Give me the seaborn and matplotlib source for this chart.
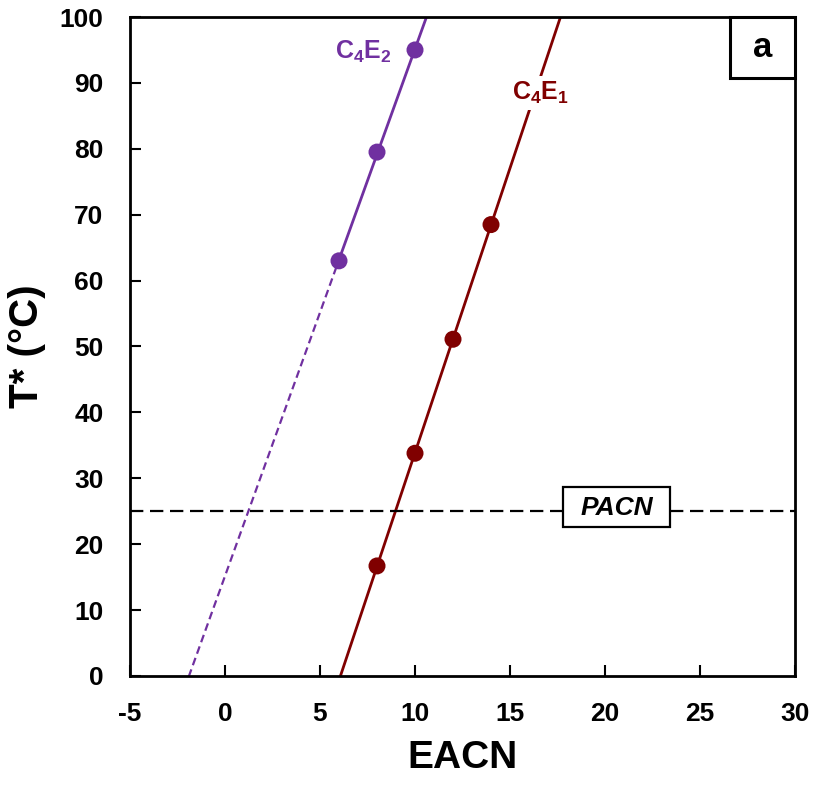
import numpy as np
import pandas as pd
import matplotlib
matplotlib.use("Agg")
import matplotlib.pyplot as plt
from matplotlib.patches import Rectangle
import seaborn as sns

# data
eacn_e2 = [6, 8, 10]
tstar_e2 = [63.0, 79.5, 95.0]
eacn_e1 = [8, 10, 12, 14]
tstar_e1 = [16.7, 33.8, 51.1, 68.5]
pacn_t = 25.0

purple = "#7030A0"
darkred = "#800000"

sns.set_theme(style="white")
plt.rcParams["font.family"] = ["Liberation Sans", "DejaVu Sans"]
plt.rcParams["font.weight"] = "bold"
plt.rcParams["text.color"] = "black"
plt.rcParams["axes.labelcolor"] = "black"
plt.rcParams["xtick.color"] = "black"
plt.rcParams["ytick.color"] = "black"
plt.rcParams["axes.unicode_minus"] = False
plt.rcParams["mathtext.fontset"] = "custom"
plt.rcParams["mathtext.rm"] = "Liberation Sans:bold"
plt.rcParams["mathtext.it"] = "Liberation Sans:bold:italic"
plt.rcParams["mathtext.bf"] = "Liberation Sans:bold"
plt.rcParams["mathtext.default"] = "rm"

fig = plt.figure(figsize=(8.15, 7.91), dpi=100)
ax = fig.add_axes([0.1595, 0.1454, 0.816, 0.8331])

# linear fits
k2, b2 = np.polyfit(eacn_e2, tstar_e2, 1)
k1, b1 = np.polyfit(eacn_e1, tstar_e1, 1)

x_solid2 = np.array([eacn_e2[0], 12])
x_dash2 = np.array([-3, eacn_e2[0]])
x_line1 = np.array([5, 19])

line_df = pd.concat([
    pd.DataFrame({"x": x_solid2, "y": k2 * x_solid2 + b2, "s": "e2"}),
    pd.DataFrame({"x": x_line1, "y": k1 * x_line1 + b1, "s": "e1"}),
])
sns.lineplot(data=line_df, x="x", y="y", hue="s", palette={"e2": purple, "e1": darkred},
             lw=2, legend=False, ax=ax, estimator=None, sort=False)
ax.plot(x_dash2, k2 * x_dash2 + b2, color=purple, lw=1.6, dashes=(3.5, 2))

pts = pd.concat([
    pd.DataFrame({"x": eacn_e2, "y": tstar_e2, "s": "e2"}),
    pd.DataFrame({"x": eacn_e1, "y": tstar_e1, "s": "e1"}),
])
sns.scatterplot(data=pts, x="x", y="y", hue="s", palette={"e2": purple, "e1": darkred},
                s=150, edgecolor="none", legend=False, ax=ax, zorder=5)

ax.axhline(pacn_t, color="black", lw=1.6, dashes=(6, 3))

# PACN label box
ax.add_patch(Rectangle((17.8, 22.6), 5.6, 6.1, fc="white", ec="black", lw=1.6, zorder=6))
ax.text(20.6, pacn_t + 0.5, "PACN", fontsize=19, fontweight="bold", fontstyle="italic",
        ha="center", va="center", zorder=7)

ax.text(7.26, 94.7, r"C$_4$E$_2$", color=purple, fontsize=18, ha="center", va="center")
ax.text(16.6, 88.5, r"C$_4$E$_1$", color=darkred, fontsize=18, ha="center", va="center",
        bbox=dict(boxstyle="square,pad=0.15", fc="white", ec="none"), zorder=6)

# panel letter box
ax.add_patch(Rectangle((0.902, 0.907), 0.098, 0.093, transform=ax.transAxes,
                       fc="white", ec="black", lw=2.2, zorder=9, clip_on=False))
ax.text(0.952, 0.953, "a", transform=ax.transAxes, fontsize=25, fontweight="bold",
        ha="center", va="center", zorder=10)

ax.set_xlim(-5, 30)
ax.set_ylim(0, 100)
ax.set_xticks(range(-5, 31, 5))
ax.set_yticks(range(0, 101, 10))
ax.set_xlabel("EACN", fontsize=28, fontweight="bold", labelpad=10)
ax.set_ylabel("T* (°C)", fontsize=29, fontweight="bold", labelpad=10)
ax.tick_params(direction="in", length=8, width=1.5, labelsize=19,
               bottom=True, left=True)
ax.tick_params(axis="x", pad=19)
ax.tick_params(axis="y", pad=19)
for lab in ax.get_xticklabels() + ax.get_yticklabels():
    lab.set_fontweight("bold")
for sp in ax.spines.values():
    sp.set_color("black")
    sp.set_linewidth(2)

fig.savefig("out.png", dpi=100)
